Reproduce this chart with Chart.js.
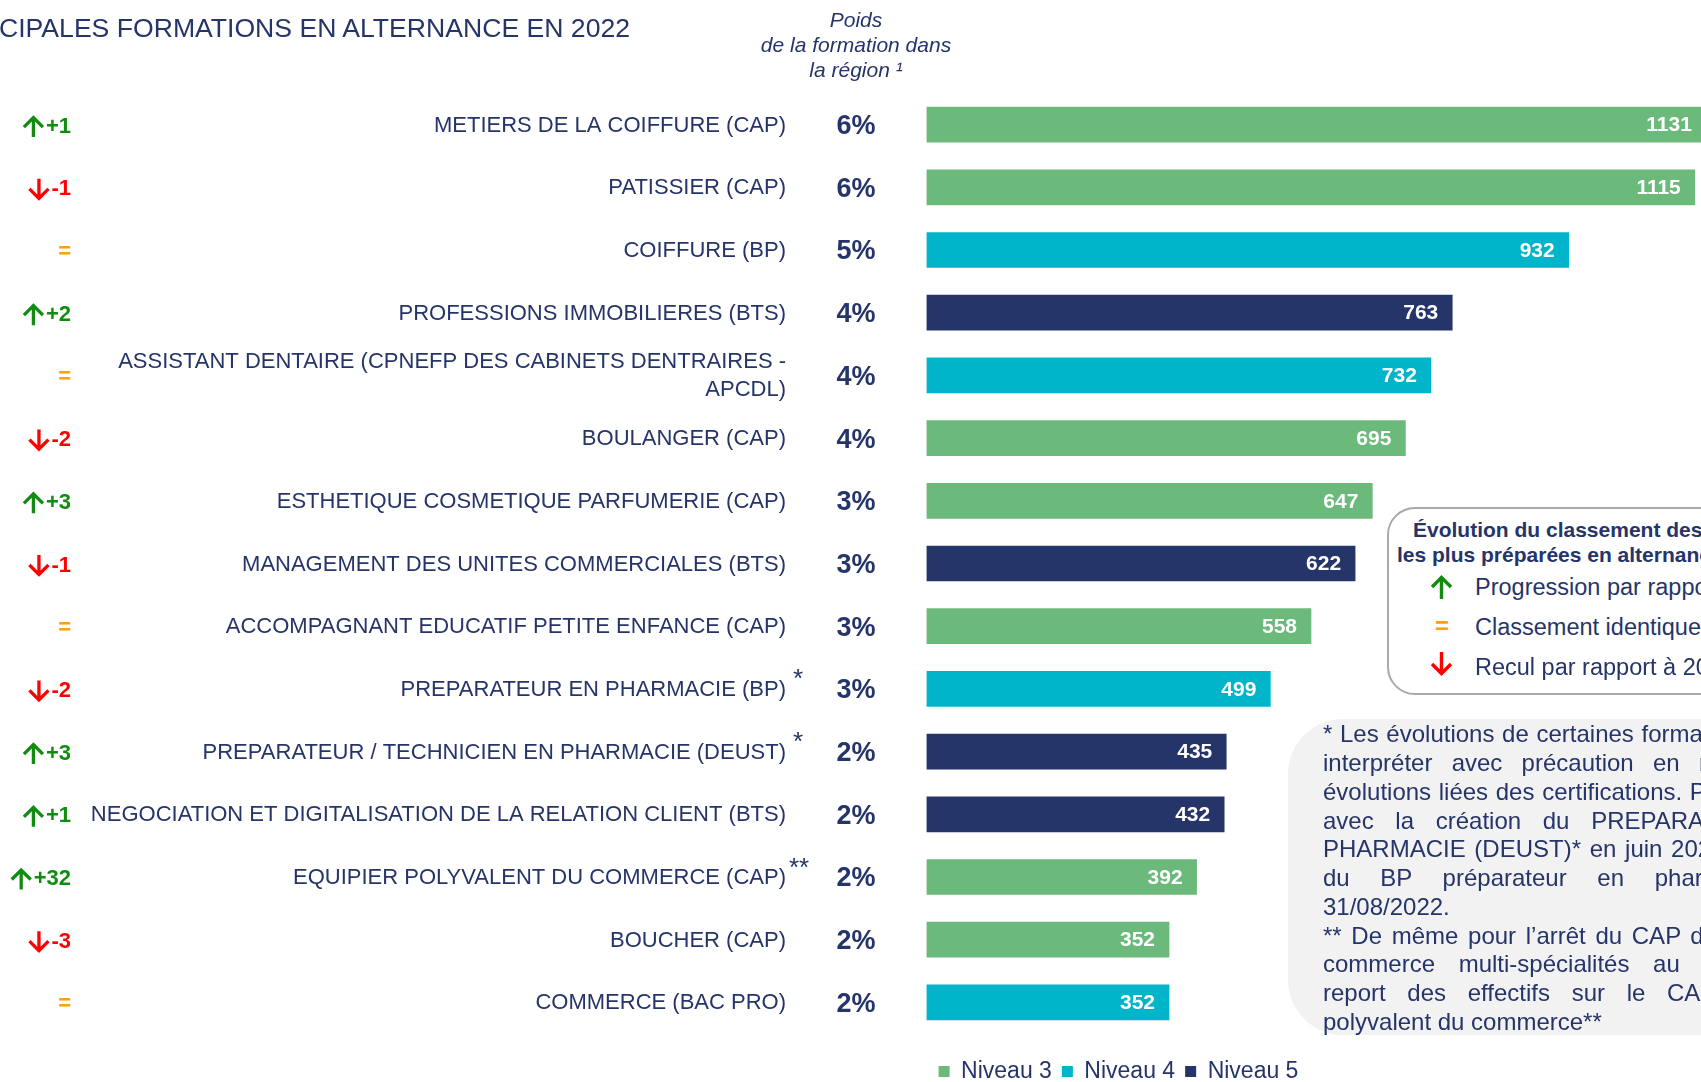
<!DOCTYPE html>
<html>
<head>
<meta charset="utf-8">
<script src="https://cdn.jsdelivr.net/npm/chart.js@4.4.1/dist/chart.umd.min.js"></script>
<style>
html,body{margin:0;padding:0;overflow:hidden;background:#fff;}
#wrap{position:relative;width:1701px;height:1082px;overflow:hidden;font-family:"Liberation Sans",Arial,sans-serif;color:#253469;}
#c{position:absolute;left:0;top:0;}
.abs{position:absolute;white-space:nowrap;}
</style>
</head>
<body>
<div id="wrap">
<canvas id="c" width="1701" height="1093" style="width:1701px;height:1093px"></canvas>

<div class="abs" style="left:-1px;top:12.8px;font-size:26.6px;line-height:30px;">CIPALES FORMATIONS EN ALTERNANCE EN 2022</div>

<div class="abs" style="left:756px;top:6.8px;width:200px;text-align:center;font-size:21px;line-height:25.3px;font-style:italic;">Poids<br>de la formation dans<br>la région ¹</div>

<div class="abs" style="left:1387px;top:507px;width:420px;height:188px;box-sizing:border-box;border:2.5px solid #A9A9A9;border-radius:28px;background:#fff;"></div>
<div class="abs" style="left:1413px;top:517.2px;font-size:21px;line-height:25px;font-weight:bold;">Évolution du classement des formations</div>
<div class="abs" style="left:1397px;top:542.2px;font-size:21px;line-height:25px;font-weight:bold;">les plus préparées en alternance par rapport à 2021</div>
<svg class="abs" style="left:1430px;top:575px;" width="23" height="24" viewBox="0 0 23 24"><path d="M11.5 24 L11.5 2.5 M2 12 L11.5 2.5 L21 12" fill="none" stroke="#118C11" stroke-width="3.4"/></svg>
<div class="abs" style="left:1475px;top:566.9px;font-size:23.5px;line-height:40px;">Progression par rapport à 2021</div>
<div class="abs" style="left:1435px;top:606px;font-size:24px;line-height:40px;font-weight:bold;color:#FFA010;">=</div>
<div class="abs" style="left:1475px;top:606.9px;font-size:23.5px;line-height:40px;">Classement identique à 2021</div>
<svg class="abs" style="left:1430px;top:652px;" width="23" height="24" viewBox="0 0 23 24"><path d="M11.5 0 L11.5 21.5 M2 12 L11.5 21.5 L21 12" fill="none" stroke="#FF0000" stroke-width="3.4"/></svg>
<div class="abs" style="left:1475px;top:646.9px;font-size:23.5px;line-height:40px;">Recul par rapport à 2021</div>

<div class="abs" style="left:1288px;top:719px;width:500px;height:316px;background:#F2F2F2;border-radius:55px;"></div>
<div id="notes"></div>
</div>

<script>
// ---- data ----
const categories = [
  'METIERS DE LA COIFFURE (CAP)',
  'PATISSIER (CAP)',
  'COIFFURE (BP)',
  'PROFESSIONS IMMOBILIERES (BTS)',
  ['ASSISTANT DENTAIRE (CPNEFP DES CABINETS DENTRAIRES -', 'APCDL)'],
  'BOULANGER (CAP)',
  'ESTHETIQUE COSMETIQUE PARFUMERIE (CAP)',
  'MANAGEMENT DES UNITES COMMERCIALES (BTS)',
  'ACCOMPAGNANT EDUCATIF PETITE ENFANCE (CAP)',
  'PREPARATEUR EN PHARMACIE (BP)',
  'PREPARATEUR / TECHNICIEN EN PHARMACIE (DEUST)',
  'NEGOCIATION ET DIGITALISATION DE LA RELATION CLIENT (BTS)',
  'EQUIPIER POLYVALENT DU COMMERCE (CAP)',
  'BOUCHER (CAP)',
  'COMMERCE (BAC PRO)'
];
const values = [1131, 1115, 932, 763, 732, 695, 647, 622, 558, 499, 435, 432, 392, 352, 352];
const levels = [3, 3, 4, 5, 4, 3, 3, 5, 3, 4, 5, 5, 3, 3, 4];
const shares = ['6%', '6%', '5%', '4%', '4%', '4%', '3%', '3%', '3%', '3%', '2%', '2%', '2%', '2%', '2%'];
const rankChanges = ['+1', '-1', '=', '+2', '=', '-2', '+3', '-1', '=', '-2', '+3', '+1', '+32', '-3', '='];
const marks = ['', '', '', '', '', '', '', '', '', '*', '*', '', '**', '', ''];
const levelIds = [3, 4, 5];
const levelNames = ['Niveau 3', 'Niveau 4', 'Niveau 5'];

const noteLines = [
  '* Les évolutions de certaines formations sont à',
  'interpréter avec précaution en raison des',
  'évolutions liées des certifications. Par exemple',
  'avec la création du PREPARATEUR / TECHNICIEN EN',
  'PHARMACIE (DEUST)* en juin 2021 et la fin',
  'du BP préparateur en pharmacie au',
  '31/08/2022.',
  '** De même pour l’arrêt du CAP d\'employé de',
  'commerce multi-spécialités au profit du',
  'report des effectifs sur le CAP Equipier',
  'polyvalent du commerce**'
];
const noteSpacing = [1, 12.6, 1, 15, 2, 24, 0, 3, 17, 15, 0];

// ---- styles ----
const NAVY = '#253469';
const levelColors = ['#6CBA7B', '#00B5C9', '#253469'];
const FONT = "'Liberation Sans', Arial, sans-serif";

// footnote lines
const notes = document.getElementById('notes');
noteLines.forEach((t, i) => {
  const d = document.createElement('div');
  d.className = 'abs';
  d.style.cssText = `left:1323px;top:${720.3 + i * 28.75}px;font-size:24px;line-height:28.75px;word-spacing:${noteSpacing[i]}px;`;
  d.textContent = t;
  notes.appendChild(d);
});

function drawArrow(ctx, cx, cy, up, color) {
  const h = 21, w = 19;
  ctx.save();
  ctx.strokeStyle = color;
  ctx.lineWidth = 3.3;
  ctx.lineCap = 'butt';
  ctx.lineJoin = 'miter';
  ctx.beginPath();
  if (up) {
    const top = cy - h / 2 + 1.5;
    ctx.moveTo(cx, cy + h / 2); ctx.lineTo(cx, top);
    ctx.moveTo(cx - w / 2, top + w / 2); ctx.lineTo(cx, top); ctx.lineTo(cx + w / 2, top + w / 2);
  } else {
    const bot = cy + h / 2 - 1.5;
    ctx.moveTo(cx, cy - h / 2); ctx.lineTo(cx, bot);
    ctx.moveTo(cx - w / 2, bot - w / 2); ctx.lineTo(cx, bot); ctx.lineTo(cx + w / 2, bot - w / 2);
  }
  ctx.stroke();
  ctx.restore();
}

const legendShift = {
  id: 'legendShift',
  afterLayout(chart) {
    const L = chart.legend;
    if (L) { L.left += 268; L.right += 268; }
  }
};

const rowPlugin = {
  id: 'rowText',
  afterDatasetsDraw(chart) {
    const ctx = chart.ctx;
    const xs = chart.scales.x, ys = chart.scales.y;
    ctx.save();
    ctx.font = `bold 21px ${FONT}`;
    ctx.fillStyle = '#FFFFFF';
    ctx.textAlign = 'right';
    ctx.textBaseline = 'middle';
    values.forEach((v, i) => {
      ctx.fillText(String(v), xs.getPixelForValue(v) - 14, ys.getPixelForValue(i) + 1);
    });
    ctx.restore();
  },
  afterDraw(chart) {
    const ctx = chart.ctx;
    const ys = chart.scales.y;
    ctx.save();
    categories.forEach((c, i) => {
      const yc = ys.getPixelForValue(i);
      // share
      ctx.font = `bold 27px ${FONT}`;
      ctx.fillStyle = NAVY;
      ctx.textAlign = 'center';
      ctx.textBaseline = 'middle';
      ctx.fillText(shares[i], 856, yc + 2);
      // footnote marks
      if (marks[i]) {
        ctx.font = `26px ${FONT}`;
        ctx.textAlign = 'left';
        ctx.textBaseline = 'alphabetic';
        ctx.fillText(marks[i], marks[i].length > 1 ? 789 : 793, yc - 1.5);
      }
      // rank change
      const r = rankChanges[i];
      const col = r === '=' ? '#FFA010' : (r[0] === '+' ? '#118C11' : '#FF0000');
      ctx.font = `bold 22px ${FONT}`;
      ctx.fillStyle = col;
      ctx.textAlign = 'right';
      ctx.textBaseline = 'middle';
      ctx.fillText(r, 71, yc + 2);
      if (r !== '=') {
        const w = ctx.measureText(r).width;
        drawArrow(ctx, 71 - w - 3 - 9.5, yc + 2, r[0] === '+', col);
      }
    });
    ctx.restore();
  }
};

new Chart(document.getElementById('c'), {
  type: 'bar',
  data: {
    labels: categories,
    datasets: levelIds.map((lv, k) => ({
      label: levelNames[k],
      data: values.map((v, i) => (levels[i] === lv ? v : null)),
      backgroundColor: levelColors[k],
      borderWidth: 0,
      barThickness: 35,
      grouped: false
    }))
  },
  options: {
    indexAxis: 'y',
    responsive: false,
    animation: false,
    devicePixelRatio: 1,
    layout: { padding: { left: 0, right: 0, top: 93.25, bottom: 0 } },
    scales: {
      x: {
        min: 0, max: 1124,
        grid: { display: false, drawTicks: false },
        border: { display: false },
        ticks: { display: false },
        afterFit: s => { s.height = 16.25; s.paddingLeft = 0; s.paddingRight = 0; }
      },
      y: {
        grid: { display: false, drawTicks: false },
        border: { display: false },
        ticks: {
          color: NAVY,
          autoSkip: false,
          padding: 140.5,
          labelOffset: 1,
          font: { family: FONT, size: 22, lineHeight: 1.2727 }
        },
        afterFit: s => { s.width = 926.5; s.paddingTop = 0; s.paddingBottom = 0; }
      }
    },
    plugins: {
      legend: {
        position: 'bottom',
        labels: {
          color: NAVY,
          boxWidth: 11,
          boxHeight: 11,
          padding: 10,
          font: { family: FONT, size: 23 }
        }
      },
      tooltip: { enabled: false }
    }
  },
  plugins: [rowPlugin, legendShift]
});
</script>
</body>
</html>
